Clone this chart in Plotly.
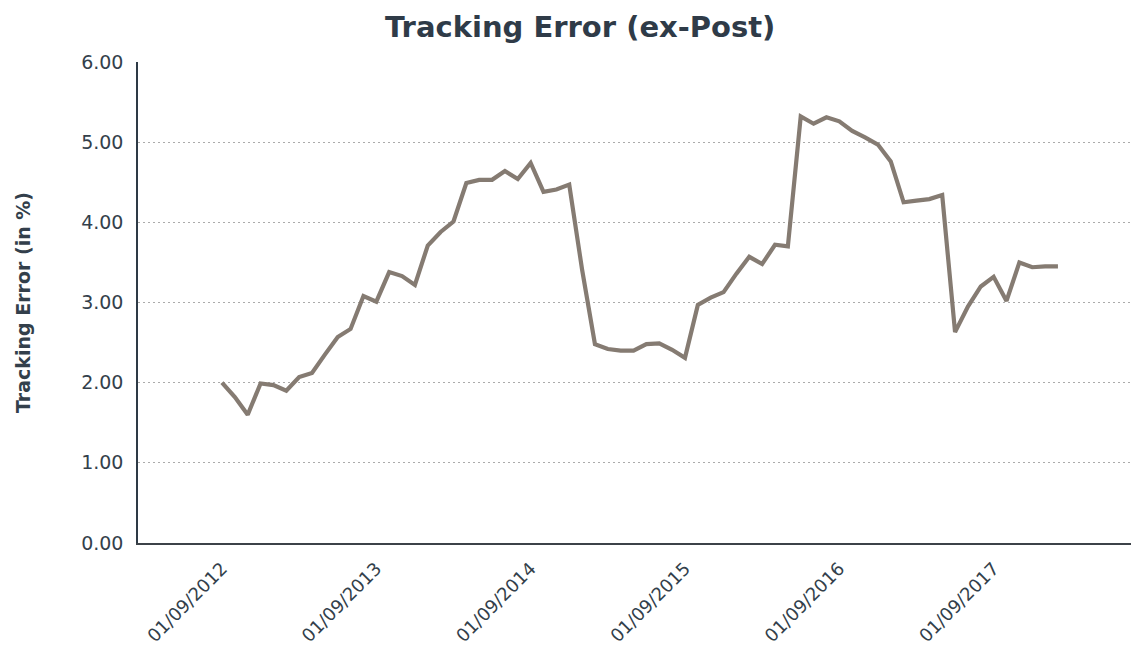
import pandas as pd
import plotly.graph_objects as go

# Monthly observation dates (first of month), Sep 2012 .. Feb 2018
dates = pd.date_range("2012-09-01", periods=66, freq="MS")
categories = [d.strftime("%d/%m/%Y") for d in dates]

tracking_error = [
    2.00, 1.82, 1.60, 1.99, 1.97, 1.90, 2.07, 2.12, 2.35, 2.57,
    2.67, 3.08, 3.01, 3.38, 3.33, 3.22, 3.71, 3.88, 4.01, 4.49,
    4.53, 4.53, 4.64, 4.54, 4.74, 4.38, 4.41, 4.47, 3.41, 2.48,
    2.42, 2.40, 2.40, 2.48, 2.49, 2.41, 2.31, 2.97, 3.06, 3.13,
    3.36, 3.57, 3.48, 3.72, 3.70, 5.32, 5.23, 5.31, 5.26, 5.14,
    5.06, 4.97, 4.76, 4.25, 4.27, 4.29, 4.34, 2.63, 2.95, 3.20,
    3.32, 3.02, 3.50, 3.44, 3.45, 3.45,
]

tick_labels = ["01/09/2012", "01/09/2013", "01/09/2014",
               "01/09/2015", "01/09/2016", "01/09/2017"]
y_ticks = [0, 1, 2, 3, 4, 5, 6]

font_family = "Verdana, 'DejaVu Sans', sans-serif"
text_color = "#333f4b"

fig = go.Figure()
fig.add_trace(go.Scatter(
    x=categories, y=tracking_error, mode="lines",
    line=dict(color="#857b72", width=4.2),
    hoverinfo="x+y",
))

fig.update_layout(
    width=1131, height=650,
    margin=dict(l=138, r=0, t=62, b=107),
    paper_bgcolor="white", plot_bgcolor="white",
    showlegend=False,
    font=dict(family=font_family, color=text_color),
    title=dict(text="<b>Tracking Error (ex-Post)</b>", x=0.513, xanchor="center",
               y=0.958, yanchor="middle",
               font=dict(size=29, color="#2f3b48", family=font_family)),
)

fig.update_xaxes(
    type="category",
    range=[-6.53, 70.68],
    tickmode="array", tickvals=tick_labels, ticktext=tick_labels,
    tickangle=-45,
    tickfont=dict(size=18, color=text_color),
    showgrid=False, zeroline=False,
    showline=True, linecolor="#3c4248", linewidth=2,
    ticks="", ticklabelstandoff=6,
)

fig.update_yaxes(
    range=[0, 6],
    tickmode="array", tickvals=y_ticks,
    tickformat=".2f",
    tickfont=dict(size=19, color=text_color),
    showgrid=True, gridcolor="#ababab", gridwidth=1, griddash="2px,3px",
    zeroline=False,
    showline=True, linecolor="#2e3a46", linewidth=1.5,
    ticks="", ticklabelstandoff=9,
    title=dict(text="<b>Tracking Error (in %)</b>",
               font=dict(size=19, color=text_color, family=font_family),
               standoff=45),
)

fig.write_html(
    "out.html",
    config={"displayModeBar": False},
    post_script="document.body.style.margin='0';document.body.style.overflow='hidden';",
)
